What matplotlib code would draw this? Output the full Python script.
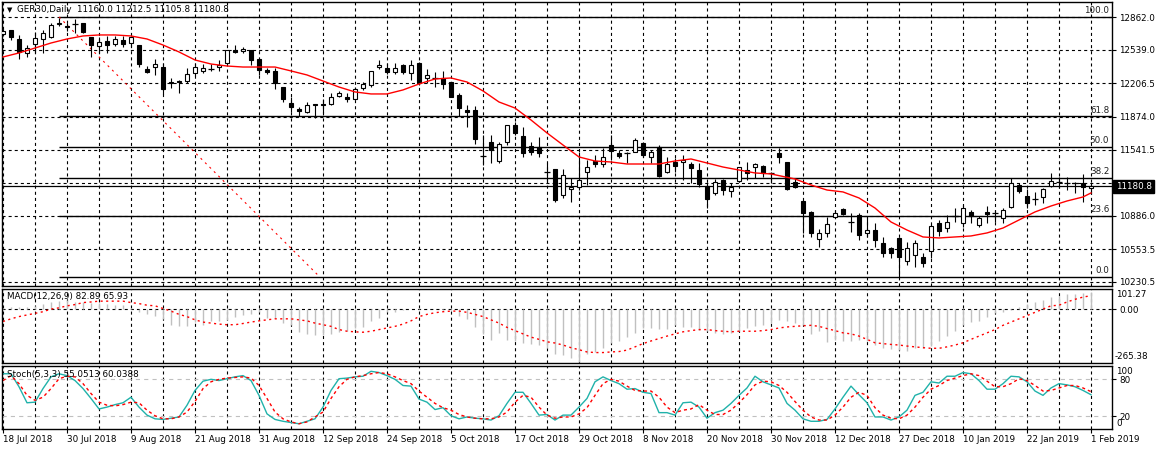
import matplotlib.pyplot as plt
from matplotlib.patches import Rectangle

plt.rcParams['font.family'] = 'DejaVu Sans'
plt.rcParams['lines.scale_dashes'] = False

# GER30 daily candles, 18 Jul 2018 .. 1 Feb 2019
opens = [12696, 12736, 12646, 12507, 12596, 12646, 12666, 12800, 12775, 12795,
         12805, 12666, 12576, 12626, 12596, 12636, 12606, 12586, 12347, 12367,
         12367, 12218, 12228, 12228, 12308, 12328, 12350, 12367, 12407, 12537,
         12527, 12537, 12447, 12338, 12328, 12168, 12009, 11950, 11920, 11999,
         11999, 11999, 12079, 12069, 12049, 12158, 12188, 12367, 12357, 12318,
         12387, 12308, 12407, 12258, 12262, 12258, 12218, 12089, 11940, 11940,
         11484, 11621, 11432, 11621, 11790, 11681, 11581, 11571, 11322, 11352,
         11094, 11153, 11173, 11323, 11432, 11402, 11591, 11512, 11509, 11522,
         11611, 11472, 11571, 11323, 11422, 11422, 11402, 11342, 11183, 11114,
         11243, 11134, 11233, 11342, 11372, 11382, 11315, 11512, 11422, 11223,
         11034, 10925, 10656, 10716, 10875, 10954, 10828, 10895, 10716, 10745,
         10616, 10566, 10666, 10437, 10497, 10477, 10536, 10815, 10765, 10887,
         10815, 10925, 10795, 10925, 10917, 10865, 10974, 11193, 11084, 11056,
         11074, 11183, 11220, 11215, 11213, 11213, 11160]
highs = [12745, 12736, 12686, 12586, 12716, 12736, 12805, 12855, 12805, 12845,
         12810, 12670, 12666, 12676, 12676, 12676, 12676, 12590, 12377, 12447,
         12407, 12258, 12238, 12357, 12407, 12397, 12397, 12437, 12540, 12586,
         12566, 12540, 12450, 12357, 12357, 12172, 12069, 11969, 12019, 12003,
         12049, 12109, 12129, 12109, 12168, 12218, 12332, 12437, 12407, 12407,
         12397, 12437, 12417, 12347, 12318, 12328, 12222, 12109, 11989, 11979,
         11691, 11691, 11621, 11795, 11820, 11770, 11621, 11671, 11412, 11356,
         11352, 11263, 11522, 11442, 11492, 11561, 11691, 11541, 11522, 11661,
         11621, 11541, 11591, 11472, 11462, 11492, 11422, 11412, 11223, 11253,
         11253, 11213, 11376, 11422, 11412, 11392, 11323, 11561, 11426, 11263,
         11038, 10935, 10755, 10875, 10944, 10964, 10915, 10915, 10865, 10815,
         10676, 10576, 10676, 10626, 10646, 10517, 10805, 10845, 10895, 10964,
         10994, 10944, 10885, 10984, 10944, 10964, 11263, 11213, 11153, 11124,
         11163, 11313, 11273, 11273, 11223, 11303, 11212.5]
lows = [12676, 12636, 12447, 12467, 12507, 12507, 12656, 12775, 12726, 12706,
        12710, 12467, 12507, 12507, 12576, 12566, 12566, 12367, 12308, 12288,
        12099, 12158, 12109, 12208, 12278, 12308, 12328, 12328, 12403, 12507,
        12507, 12387, 12288, 12298, 12148, 12019, 11920, 11880, 11910, 11860,
        11910, 11989, 12069, 12019, 12045, 12139, 12168, 12347, 12298, 12298,
        12298, 12238, 12188, 12208, 12168, 12148, 12065, 11880, 11770, 11601,
        11392, 11412, 11412, 11591, 11691, 11472, 11492, 11472, 11213, 11024,
        11064, 11024, 11143, 11193, 11372, 11372, 11442, 11462, 11412, 11518,
        11472, 11412, 11273, 11313, 11323, 11243, 11213, 11173, 10964, 11094,
        11094, 11074, 11223, 11243, 11263, 11273, 11213, 11412, 11143, 11163,
        10716, 10676, 10576, 10676, 10865, 10895, 10726, 10646, 10676, 10576,
        10477, 10467, 10278, 10397, 10377, 10377, 10467, 10686, 10726, 10825,
        10775, 10815, 10775, 10815, 10825, 10815, 10964, 11114, 10964, 10994,
        11014, 11173, 11163, 11143, 11114, 11024, 11105.8]
closes = [12726, 12666, 12517, 12556, 12656, 12706, 12785, 12808, 12765, 12790,
          12716, 12586, 12616, 12586, 12646, 12596, 12666, 12397, 12318, 12397,
          12148, 12208, 12218, 12298, 12367, 12357, 12345, 12387, 12537, 12517,
          12546, 12437, 12338, 12318, 12208, 12049, 11969, 11930, 11989, 11989,
          11989, 12069, 12109, 12049, 12148, 12198, 12328, 12387, 12318, 12357,
          12318, 12387, 12208, 12288, 12256, 12198, 12069, 11959, 11920, 11651,
          11480, 11541, 11601, 11790, 11711, 11512, 11522, 11512, 11318, 11044,
          11293, 11173, 11243, 11372, 11402, 11472, 11531, 11482, 11505, 11641,
          11492, 11522, 11283, 11402, 11382, 11442, 11362, 11203, 11054, 11223,
          11143, 11173, 11372, 11313, 11402, 11313, 11311, 11472, 11153, 11173,
          10915, 10716, 10716, 10805, 10915, 10905, 10824, 10696, 10745, 10646,
          10517, 10517, 10477, 10566, 10616, 10417, 10785, 10736, 10825, 10883,
          10964, 10885, 10865, 10905, 10913, 10944, 11213, 11134, 11014, 11052,
          11153, 11233, 11225, 11210, 11210, 11173, 11180.8]

# moving average (red line), sampled where it was read
ma_bars = list(range(0, 97, 2)) + list(range(99, 136, 2)) + [136]
ma_values = [12467, 12507, 12556, 12606, 12646, 12676, 12686, 12686, 12676, 12646,
             12586, 12517, 12437, 12397, 12377, 12367, 12367, 12367, 12328, 12288,
             12228, 12168, 12119, 12099, 12099, 12139, 12198, 12248, 12258, 12218,
             12129, 12019, 11959, 11840, 11711, 11591, 11472, 11432, 11422, 11402,
             11402, 11402, 11432, 11452, 11412, 11372, 11342, 11313, 11303,
             11253, 11193, 11143, 11124, 11064, 10964, 10825, 10745, 10676, 10666,
             10676, 10686, 10716, 10765, 10845, 10925, 10984, 11034, 11074, 11114]

macd_main = [5, 8, 8, 10, 16, 26, 35, 40, 45, 35,
             35, 32, 32, 27, 22, 19, 3, -13, -26, -32,
             -48, -77, -85, -85, -64, -77, -61, -58, -53, -39,
             -29, -24, -16, -42, -42, -69, -80, -112, -122, -129,
             -129, -122, -112, -109, -93, -90, -61, -42, -13, -16,
             -5, 0, 3, 2, 0, -3, -3, -32, -48, -90,
             -125, -150, -117, -154, -157, -165, -173, -177, -190, -222,
             -225, -240, -262, -222, -209, -190, -165, -157, -138, -117,
             -93, -93, -96, -96, -77, -88, -88, -101, -109, -117,
             -122, -117, -109, -93, -85, -77, -69, -53, -61, -69,
             -77, -125, -109, -161, -154, -157, -157, -154, -157, -177,
             -190, -198, -202, -206, -190, -190, -182, -157, -133, -109,
             -77, -64, -58, -37, -21, -13, -5, 10, 27, 35,
             43, 59, 64, 72, 76, 79, 82.89]
macd_signal = [-61, -48, -37, -29, -21, -13, 0, 6, 16, 22,
               32, 35, 39, 39, 39, 39, 32, 27, 19, 16,
               3, -10, -26, -37, -53, -64, -69, -74, -77, -77,
               -71, -64, -58, -53, -48, -48, -48, -53, -58, -69,
               -77, -85, -101, -109, -112, -114, -109, -101, -93, -85,
               -74, -58, -37, -26, -18, -13, -10, -10, -16, -26,
               -37, -53, -69, -90, -106, -122, -138, -149, -161, -167,
               -177, -190, -200, -211, -214, -214, -211, -209, -202, -186,
               -170, -157, -145, -133, -122, -112, -106, -101, -101, -106,
               -109, -112, -109, -109, -109, -106, -101, -93, -88, -85,
               -82, -80, -85, -96, -106, -117, -122, -133, -149, -166,
               -170, -174, -177, -182, -186, -190, -193, -193, -186, -177,
               -166, -149, -133, -117, -101, -80, -64, -48, -32, -16,
               0, 16, 19, 35, 48, 59, 65.93]

stoch_main = [89, 89, 68, 42, 43, 65, 84, 89, 86, 78,
              65, 49, 32, 35, 39, 42, 51, 35, 22, 16,
              15, 17, 19, 38, 62, 77, 80, 78, 81, 84,
              86, 78, 54, 24, 15, 12, 10, 8, 12, 16,
              35, 62, 81, 82, 84, 85, 93, 91, 86, 80,
              70, 69, 48, 43, 31, 34, 21, 16, 19, 17,
              16, 14, 21, 41, 59, 59, 41, 22, 23, 14,
              22, 22, 35, 49, 76, 84, 78, 73, 64, 65,
              59, 57, 26, 26, 22, 42, 43, 35, 17, 26,
              30, 41, 54, 66, 85, 76, 71, 66, 41, 30,
              16, 12, 12, 15, 32, 51, 69, 55, 42, 19,
              19, 14, 19, 30, 54, 59, 76, 74, 85, 85,
              91, 89, 78, 64, 64, 73, 85, 84, 76, 61,
              54, 66, 73, 71, 68, 62, 55.0513]
stoch_signal = [78, 86, 73, 54, 46, 51, 65, 81, 85, 84,
                73, 57, 43, 38, 37, 39, 43, 42, 30, 21,
                16, 16, 19, 27, 44, 65, 76, 80, 82, 83,
                84, 82, 70, 49, 27, 16, 11, 8, 11, 19,
                27, 49, 68, 80, 84, 86, 89, 91, 89, 84,
                78, 73, 61, 51, 41, 34, 30, 23, 19, 17,
                16, 16, 19, 27, 43, 54, 51, 35, 22, 17,
                19, 19, 24, 34, 54, 73, 80, 77, 69, 62,
                61, 61, 51, 35, 26, 30, 32, 39, 30, 23,
                23, 30, 42, 55, 71, 77, 76, 70, 59, 44,
                30, 19, 14, 14, 22, 35, 51, 59, 54, 34,
                22, 17, 16, 22, 35, 51, 64, 70, 78, 82,
                86, 89, 86, 77, 68, 68, 73, 81, 78, 70,
                61, 62, 66, 70, 70, 66, 60.0388]

date_labels = ['18 Jul 2018', '30 Jul 2018', '9 Aug 2018', '21 Aug 2018', '31 Aug 2018',
               '12 Sep 2018', '24 Sep 2018', '5 Oct 2018', '17 Oct 2018', '29 Oct 2018',
               '8 Nov 2018', '20 Nov 2018', '30 Nov 2018', '12 Dec 2018', '27 Dec 2018',
               '10 Jan 2019', '22 Jan 2019', '1 Feb 2019']
label_bars = list(range(0, 137, 8))

price_ticks = [12862.0, 12539.0, 12206.5, 11874.0, 11541.5, 11209.0, 10886.0, 10553.5, 10230.5]
price_tick_labels = ['12862.0', '12539.0', '12206.5', '11874.0', '11541.5', '',
                     '10886.0', '10553.5', '10230.5']
last_price = 11180.8

fib_high, fib_low = 12865, 10278
fib_levels = [0.0, 23.6, 38.2, 50.0, 61.8, 100.0]
fib_start_bar = 7
fib_line_end_bar = 39.6

W, H = 1158, 450
fig = plt.figure(figsize=(W / 100, H / 100), dpi=100)


def rect(x0, y0, x1, y1):
    return [x0 / W, 1 - y1 / H, (x1 - x0) / W, (y1 - y0) / H]


ax = fig.add_axes(rect(2, 2, 1112, 285.5))
ax_m = fig.add_axes(rect(2, 288.5, 1112, 363))
ax_s = fig.add_axes(rect(2, 365.5, 1112, 429))

grid_style = dict(color='black', lw=0.8, linestyle=(0, (2.2, 2.2)))
fs = 6.3
n = len(closes)

for a in (ax, ax_m, ax_s):
    a.set_xlim(-0.125, 138.625)
    a.set_xticks(label_bars)
    a.set_xticks(range(4, n, 8), minor=True)
    a.grid(True, which='both', axis='x', **grid_style)
    a.set_axisbelow(True)
    a.yaxis.tick_right()
    a.tick_params(axis='x', which='both', length=0, labelbottom=False)
    a.tick_params(axis='y', length=3, width=0.8, pad=2, labelsize=fs)
    for s in a.spines.values():
        s.set_linewidth(1)

# ---- main price panel ----
ax.set_ylim(10193, 13014)
ax.set_yticks(price_ticks)
ax.set_yticklabels(price_tick_labels)
ax.grid(True, axis='y', **grid_style)

for i in range(n):
    o, h, l, c = opens[i], highs[i], lows[i], closes[i]
    ax.vlines(i, l, h, color='black', lw=0.8, zorder=3)
    if abs(c - o) < 8:
        ax.hlines((o + c) / 2, i - 0.32, i + 0.32, color='black', lw=0.9, zorder=4)
    else:
        face = 'white' if c > o else 'black'
        ax.add_patch(Rectangle((i - 0.27, min(o, c)), 0.54, abs(c - o),
                               facecolor=face, edgecolor='black', lw=0.8, zorder=4))

ax.plot(ma_bars, ma_values, color='red', lw=1, zorder=5)

# fibonacci retracement
for lvl in fib_levels:
    p = fib_low + (fib_high - fib_low) * lvl / 100
    ax.hlines(p, fib_start_bar, 138.625, color='black', lw=1, zorder=2)
    ax.annotate(f'{lvl:.1f}', xy=(1, p), xycoords=('axes fraction', 'data'),
                xytext=(-2, 1.2), textcoords='offset points', ha='right', va='bottom',
                fontsize=fs, color='#202020')
ax.plot([fib_start_bar, fib_line_end_bar], [fib_high, fib_low], color='red', lw=0.8,
        linestyle=(0, (1.5, 3)), zorder=2)

ax.axhline(last_price, color='black', lw=0.9, zorder=2)
ax.annotate(f'{last_price:.1f}', xy=(1, last_price), xycoords=('axes fraction', 'data'),
            xytext=(2.6, 0), textcoords='offset points', ha='left', va='center',
            fontsize=fs, color='white', annotation_clip=False,
            bbox=dict(boxstyle='square,pad=0.25', fc='black', ec='black'))

fig.text(7 / W, 1 - 10 / H, '\u25bc', fontsize=5, va='center')
fig.text(17 / W, 1 - 10 / H, 'GER30,Daily  11160.0 11212.5 11105.8 11180.8',
         fontsize=fs, va='center')

# ---- MACD panel ----
ax_m.set_ylim(-265.38, 101.27)
ax_m.vlines(range(n), 0, macd_main, color='#c0c0c0', lw=1)
ax_m.plot(range(n), macd_signal, color='red', lw=1, linestyle=(0, (1.5, 2.5)))
ax_m.set_yticks([0])
ax_m.set_yticklabels(['0.00'])
ax_m.grid(True, axis='y', **grid_style)
fig.text(1116 / W, 1 - 294.7 / H, '101.27', fontsize=fs, va='center')
fig.text(1114.5 / W, 1 - 356.5 / H, '-265.38', fontsize=fs, va='center')
fig.text(7 / W, 1 - 297 / H, 'MACD(12,26,9) 82.89 65.93', fontsize=fs, va='center')

# ---- Stochastic panel ----
ax_s.set_ylim(-0.5, 102.4)
ax_s.axhline(80, color='#c0c0c0', lw=0.8, linestyle=(0, (3, 3)))
ax_s.axhline(20, color='#c0c0c0', lw=0.8, linestyle=(0, (3, 3)))
ax_s.plot(range(n), stoch_main, color='#20b2aa', lw=1)
ax_s.plot(range(n), stoch_signal, color='red', lw=1, linestyle=(0, (2.2, 2.2)))
ax_s.set_yticks([20, 80])
ax_s.set_yticklabels(['20', '80'])
fig.text(1116 / W, 1 - 371.5 / H, '100', fontsize=fs, va='center')
fig.text(1116 / W, 1 - 424 / H, '0', fontsize=fs, va='center')
fig.text(7 / W, 1 - 374.5 / H, 'Stoch(5,3,3) 55.0513 60.0388', fontsize=fs, va='center')

ax_s.tick_params(axis='x', which='major', length=3, width=0.8, pad=1.5,
                 labelbottom=True, labelsize=fs)
ax_s.set_xticklabels(date_labels, ha='left')

fig.savefig('out.png', dpi=100)
